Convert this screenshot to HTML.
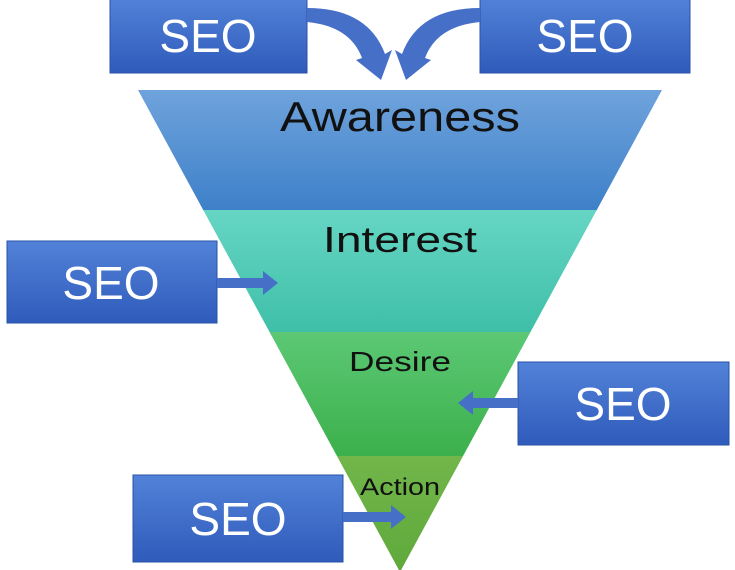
<!DOCTYPE html>
<html><head><style>
html,body{margin:0;padding:0;background:#fff;width:735px;height:570px;overflow:hidden}
</style></head><body>
<svg width="735" height="570" viewBox="0 0 735 570" xmlns="http://www.w3.org/2000/svg" font-family="Liberation Sans, DejaVu Sans, sans-serif">
<defs>
<linearGradient id="aw" x1="0" y1="0" x2="0" y2="1"><stop offset="0" stop-color="#6fa3dc"/><stop offset="1" stop-color="#3e80c9"/></linearGradient>
<linearGradient id="in" x1="0" y1="0" x2="0" y2="1"><stop offset="0" stop-color="#66d6c4"/><stop offset="1" stop-color="#3fbfa8"/></linearGradient>
<linearGradient id="de" x1="0" y1="0" x2="0" y2="1"><stop offset="0" stop-color="#5cc874"/><stop offset="1" stop-color="#3cb04c"/></linearGradient>
<linearGradient id="ac" x1="0" y1="0" x2="0" y2="1"><stop offset="0" stop-color="#72b64a"/><stop offset="1" stop-color="#5ea83a"/></linearGradient>
<linearGradient id="bx" x1="0" y1="0" x2="0" y2="1"><stop offset="0" stop-color="#5282d8"/><stop offset="1" stop-color="#2f5bbb"/></linearGradient>
<clipPath id="fun"><polygon points="138,90 662,90 400,572"/></clipPath>
</defs>
<g clip-path="url(#fun)">
<rect x="0" y="90" width="735" height="120" fill="url(#aw)"/>
<rect x="0" y="210" width="735" height="122" fill="url(#in)"/>
<rect x="0" y="332" width="735" height="124" fill="url(#de)"/>
<rect x="0" y="456" width="735" height="120" fill="url(#ac)"/>
</g>
<g fill="#111" text-anchor="middle">
<text x="400" y="131" font-size="42" textLength="240" lengthAdjust="spacingAndGlyphs">Awareness</text>
<text x="400" y="252" font-size="36" textLength="154" lengthAdjust="spacingAndGlyphs">Interest</text>
<text x="400" y="371" font-size="28" textLength="102" lengthAdjust="spacingAndGlyphs">Desire</text>
<text x="400" y="495" font-size="24" textLength="80" lengthAdjust="spacingAndGlyphs">Action</text>
</g>
<g fill="url(#bx)" stroke="#2a50a8" stroke-width="1">
<rect x="110" y="-2" width="197" height="75"/>
<rect x="480" y="-2" width="210" height="75"/>
<rect x="7" y="241" width="210" height="82"/>
<rect x="518" y="362" width="211" height="83"/>
<rect x="133" y="475" width="210" height="87"/>
</g>
<g fill="#fff" text-anchor="middle" font-size="46">
<text x="208" y="52">SEO</text>
<text x="585" y="52">SEO</text>
<text x="111" y="299">SEO</text>
<text x="623" y="420">SEO</text>
<text x="238" y="535">SEO</text>
</g>
<g fill="#4670c8">
<path d="M307,22 Q350,26 362,58 L356,60 L381,80 L392,50 L385,54 Q368,8 307,8 Z"/>
<path d="M480,22 Q437,26 425,58 L431,60 L406,80 L395,50 L402,54 Q419,8 480,8 Z"/>
<path d="M217,278 L263,278 L263,271 L278,283 L263,295 L263,288 L217,288 Z"/>
<path d="M518,398 L473,398 L473,391 L458,403 L473,415 L473,408 L518,408 Z"/>
<path d="M343,512 L391,512 L391,505 L406,517 L391,529 L391,522 L343,522 Z"/>
</g>
</svg>
</body></html>
